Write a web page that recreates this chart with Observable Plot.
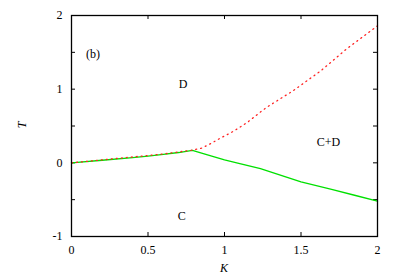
<!DOCTYPE html>
<html><head><meta charset="utf-8">
<script src="https://cdn.jsdelivr.net/npm/d3@7"></script>
<script src="https://cdn.jsdelivr.net/npm/@observablehq/plot@0.6"></script>
<style>body{margin:0;background:#fff}</style>
</head><body><div id="chart"></div>
<script>
const greenK = [0, 0.2, 0.4, 0.5, 0.6, 0.7, 0.79, 0.9, 1.0, 1.1, 1.235, 1.4, 1.5, 1.7, 1.85, 2.0];
const greenT = [0, 0.035, 0.07, 0.09, 0.115, 0.14, 0.17, 0.1, 0.04, -0.01, -0.08, -0.19, -0.26, -0.36, -0.44, -0.52];
const redK = [0, 0.2, 0.4, 0.6, 0.78, 0.85, 0.9, 0.96, 1.06, 1.15, 1.235, 1.28, 1.45, 1.63, 1.8, 2.0];
const redT = [0, 0.04, 0.08, 0.12, 0.17, 0.2, 0.25, 0.32, 0.43, 0.55, 0.69, 0.76, 0.98, 1.25, 1.55, 1.86];
const xTicks = [0, 0.5, 1, 1.5, 2];
const yTicks = [-1, -0.5, 0, 0.5, 1, 1.5, 2];
const yLabels = [-1, 0, 1, 2];
const labels = [
  {K: 0.14, T: 1.48, text: "(b)"},
  {K: 0.73, T: 1.07, text: "D"},
  {K: 1.68, T: 0.28, text: "C+D"},
  {K: 0.72, T: -0.72, text: "C"}
];
const green = greenK.map((k, i) => ({K: k, T: greenT[i]}));
const red = redK.map((k, i) => ({K: k, T: redT[i]}));
const W = 409, H = 278, mt = 15, mb = 42, ml = 71, mr = 32;
const ph = H - mt - mb, pw = W - ml - mr;
const FF = "Liberation Serif, DejaVu Serif";
const chart = Plot.plot({
  width: W, height: H,
  marginTop: mt, marginBottom: mb, marginLeft: ml, marginRight: mr,
  style: {fontFamily: FF, fontSize: "12px", background: "#fff", color: "#000"},
  x: {domain: [0, 2]},
  y: {domain: [-1, 2]},
  marks: [
    Plot.axisX(xTicks, {tickSize: 0, tickPadding: 9, fontSize: 12, label: null, tickFormat: d => String(d)}),
    Plot.axisY(yLabels, {tickSize: 0, tickPadding: 9, fontSize: 12, label: null, tickFormat: d => String(d)}),
    Plot.tickX(xTicks, {x: d => d, insetTop: ph - 4, stroke: "#000", strokeWidth: 1}),
    Plot.tickX(xTicks, {x: d => d, insetBottom: ph - 4, stroke: "#000", strokeWidth: 1}),
    Plot.tickY(yTicks, {y: d => d, insetRight: pw - 4, stroke: "#000", strokeWidth: 1}),
    Plot.tickY(yTicks, {y: d => d, insetLeft: pw - 4, stroke: "#000", strokeWidth: 1}),
    Plot.line(green, {x: "K", y: "T", stroke: "#00e000", strokeWidth: 1.3}),
    Plot.line(red, {x: "K", y: "T", stroke: "#ff2020", strokeWidth: 1.3, strokeDasharray: "1,4"}),
    Plot.text(labels, {x: "K", y: "T", text: "text", fontSize: 12, fill: "#000"}),
    Plot.frame({stroke: "#000", strokeWidth: 1.3})
  ]
});
const svg = d3.select(chart);
svg.append("text").attr("x", 224).attr("y", 272).attr("text-anchor", "middle")
  .attr("font-family", FF).attr("font-style", "italic").attr("font-size", 12).text("K");
svg.append("text").attr("transform", "translate(26,125) rotate(-90)").attr("text-anchor", "middle")
  .attr("font-family", FF).attr("font-style", "italic").attr("font-size", 12).text("T");
document.getElementById("chart").appendChild(chart);
</script>
</body></html>
